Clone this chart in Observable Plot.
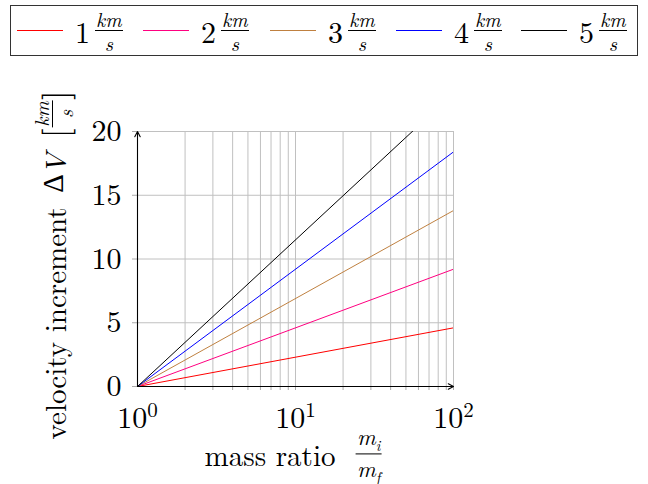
<!DOCTYPE html>
<html><head><meta charset="utf-8">
<script src="https://cdn.jsdelivr.net/npm/d3@7"></script>
<script src="https://cdn.jsdelivr.net/npm/@observablehq/plot@0.6"></script>
<style>
body{margin:0;background:#fff;font-family:"Latin Modern Roman","Liberation Serif",serif;color:#000;}
#wrap{position:relative;width:648px;height:484px;overflow:hidden;}
#legend{position:absolute;left:10px;top:5px;width:628px;height:51px;border:1px solid #333;box-sizing:border-box;}
.item{position:absolute;top:0;height:100%;display:flex;align-items:center;font-size:30px;line-height:1;}
.swatch{width:46px;height:0;border-top:1px solid;margin-right:12px;}
.frac{display:inline-flex;flex-direction:column;align-items:center;vertical-align:middle;font-style:italic;font-size:20px;line-height:1;margin-left:5px;}
.frac .n{border-bottom:1px solid #000;padding:0 1px 1px;}
.frac .d{padding-top:2px;}
#chart{position:absolute;left:0;top:60px;}
#ylab{position:absolute;left:53px;top:265px;transform:translate(-50%,-50%) rotate(-90deg);white-space:nowrap;font-size:29px;display:flex;align-items:center;}
#xlab{position:absolute;left:293px;top:454px;transform:translate(-50%,-50%);white-space:nowrap;font-size:29px;display:flex;align-items:center;}
.big{font-size:34px;line-height:1;font-weight:300;}
.gr{font-family:"Liberation Serif",serif;font-weight:normal;}
</style></head>
<body>
<div id="wrap">
  <div id="legend"></div>
  <div id="chart"></div>
  <div id="ylab">velocity increment&nbsp;<span class="gr">Δ</span><i>V</i>&nbsp;<span class="big">[</span><span class="frac" style="margin-left:1px"><span class="n">km</span><span class="d">s</span></span><span class="big">]</span></div>
  <div id="xlab">mass ratio&nbsp;<span class="frac" style="font-size:23px;margin-left:6px"><span class="n">m<sub style="font-size:15px">i</sub></span><span class="d">m<sub style="font-size:15px">f</sub></span></span></div>
</div>
<script>
// data
const exhaustSpeeds = [1, 2, 3, 4, 5];               // km/s
const seriesColors = ["#ff0000", "#ff0080", "#bf8040", "#0000ff", "#000000"];
const massRatio = [1, 100];
const dv1 = [0, 4.6];
const dv2 = [0, 9.2];
const dv3 = [0, 13.8];
const dv4 = [0, 18.4];
const dv5 = [0, 23.0];
const seriesValues = [dv1, dv2, dv3, dv4, dv5];
const xGrid = [2,3,4,5,6,7,8,9,10,20,30,40,50,60,70,80,90,100];
const xTicks = [1, 10, 100];
const xTickExponents = ["0", "1", "2"];
const yTicks = [0, 5, 10, 15, 20];

// legend
const legend = document.getElementById("legend");
const lefts = [6, 132, 259, 385, 510];
exhaustSpeeds.forEach((s, i) => {
  const it = document.createElement("div");
  it.className = "item";
  it.style.left = lefts[i] + "px";
  it.innerHTML = `<span class="swatch" style="border-color:${seriesColors[i]}"></span><span>${s}</span><span class="frac"><span class="n">km</span><span class="d">s</span></span>`;
  legend.appendChild(it);
});

const lineMarks = seriesValues.map((vals, i) =>
  Plot.line(massRatio.map((m, j) => ({m, v: vals[j]})), {x: "m", y: "v", stroke: seriesColors[i], strokeWidth: 1, clip: true})
);

const axes = [{x1: 1, y1: 0, x2: 100, y2: 0}, {x1: 1, y1: 0, x2: 1, y2: 20}];
const expOf = new Map(xTicks.map((t, i) => [t, xTickExponents[i]]));

const plot = Plot.plot({
  width: 648, height: 424,
  marginTop: 71, marginBottom: 98, marginLeft: 137, marginRight: 195,
  x: {type: "log", domain: [1, 100]},
  y: {domain: [0, 20]},
  style: {fontFamily: "Latin Modern Roman, Liberation Serif, serif", fontSize: "30px", background: "transparent", color: "#000"},
  marks: [
    Plot.ruleX(xGrid, {stroke: "#c0c0c0", strokeWidth: 1}),
    Plot.ruleY(yTicks.slice(1), {stroke: "#c0c0c0", strokeWidth: 1}),
    Plot.axisX({ticks: xGrid, tickFormat: () => "", tickSize: 4, stroke: "#aaa", label: null}),
    Plot.axisY({ticks: yTicks, tickSize: 5, stroke: "#aaa", tickPadding: 11, tickFormat: d => String(d), label: null}),
    Plot.axisX({ticks: xTicks, tickSize: 0, tickPadding: 20, tickFormat: d => "10|" + expOf.get(d), label: null}),
    ...lineMarks,
    Plot.arrow(axes, {x1: "x1", y1: "y1", x2: "x2", y2: "y2", stroke: "#000", strokeWidth: 1.1, headLength: 8, headAngle: 55})
  ]
});
document.getElementById("chart").appendChild(plot);

// superscript exponents on x tick labels
plot.querySelectorAll('g[aria-label="x-axis tick label"] text').forEach(t => {
  const s = t.textContent;
  if (!s || s.indexOf("|") < 0) return;
  const [base, exp] = s.split("|");
  t.textContent = base;
  const ts = document.createElementNS("http://www.w3.org/2000/svg", "tspan");
  ts.setAttribute("dy", "-0.5em");
  ts.setAttribute("font-size", "21px");
  ts.textContent = exp;
  t.appendChild(ts);
});
</script>
</body></html>
